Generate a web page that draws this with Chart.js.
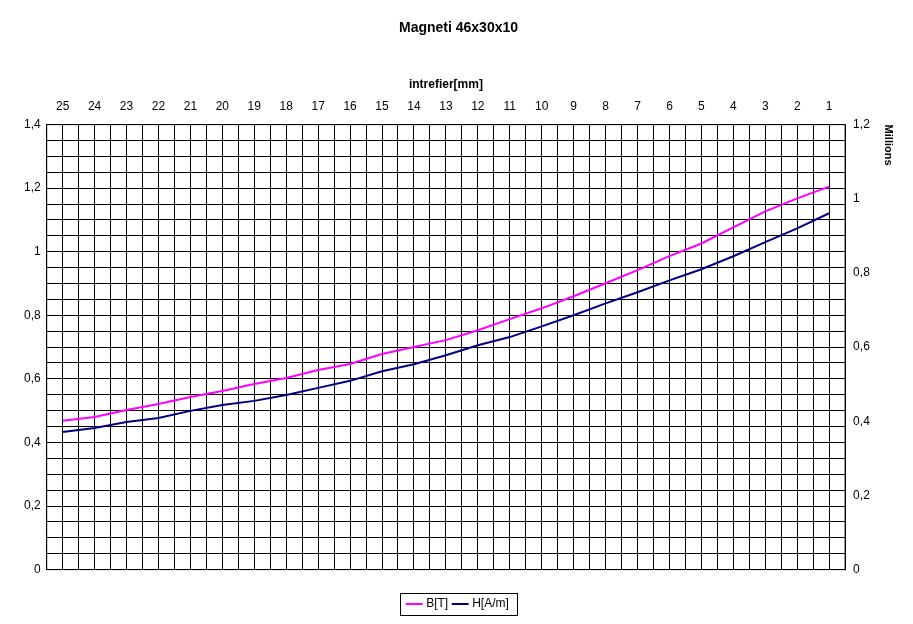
<!DOCTYPE html>
<html><head><meta charset="utf-8">
<script src="https://cdn.jsdelivr.net/npm/chart.js@4/dist/chart.umd.min.js"></script>
<style>html,body{margin:0;padding:0;background:#fff}#w{width:913px;height:624px}</style>
</head><body><div id="w"><canvas id="c"></canvas></div>
<script>
const categories = ['25','24','23','22','21','20','19','18','17','16','15','14','13','12','11','10','9','8','7','6','5','4','3','2','1'];
const seriesB = [0.468,0.480,0.502,0.521,0.543,0.562,0.584,0.603,0.628,0.647,0.678,0.700,0.722,0.753,0.788,0.822,0.860,0.901,0.942,0.986,1.026,1.077,1.127,1.168,1.205];
const seriesH = [371000,382000,398000,409000,428000,444000,455000,471000,490000,509000,535000,554000,578000,605000,627000,656000,686000,718000,748000,780000,810000,845000,883000,920000,961000];
const leftTicks = [0,0.2,0.4,0.6,0.8,1,1.2,1.4];
const rightTicks = [0,0.2,0.4,0.6,0.8,1,1.2];
const fmt = v => String(Math.round(v*10)/10).replace('.',',');
const F = {family:'"Liberation Sans", Arial, sans-serif', size:12};
const legendBox = {id:'lb', afterDraw(ch){const hb=ch.legend.legendHitBoxes;if(!hb||!hb.length)return;
 let l=Infinity,r=-Infinity,t=Infinity,b=-Infinity;hb.forEach(h=>{l=Math.min(l,h.left);r=Math.max(r,h.left+h.width);t=Math.min(t,h.top);b=Math.max(b,h.top+h.height);});
 const c=ch.ctx;c.save();c.strokeStyle='#000';c.lineWidth=1;c.strokeRect(Math.round(l-8)+0.5,Math.round(t-5)+0.5,Math.round(r-l+16),Math.round(b-t+10));c.restore();}};
const frame = {id:'fr', afterDatasetsDraw(ch){const a=ch.chartArea,c=ch.ctx;c.save();c.strokeStyle='#000';c.lineWidth=1;c.strokeRect(a.left,a.top,a.right-a.left,a.bottom-a.top);c.restore();}};
new Chart(document.getElementById('c'),{
type:'line',
data:{labels:categories,datasets:[
{label:'B[T]',data:seriesB,borderColor:'#FF00FF',backgroundColor:'#FF00FF',borderWidth:2,pointRadius:0,yAxisID:'y',xAxisID:'x',tension:0},
{label:'H[A/m]',data:seriesH,borderColor:'#000080',backgroundColor:'#000080',borderWidth:2,pointRadius:0,yAxisID:'y2',xAxisID:'x',tension:0}]},
options:{responsive:true,maintainAspectRatio:false,animation:false,
layout:{padding:{left:18,right:14,top:10,bottom:4}},
plugins:{
title:{display:true,text:'Magneti 46x30x10',font:{...F,size:14,weight:'bold'},color:'#000',padding:{top:10,bottom:37}},
legend:{position:'bottom',labels:{usePointStyle:true,pointStyle:'line',color:'#000',font:F,boxWidth:30,padding:6},
 onClick:null},
tooltip:{enabled:false}},
scales:{
x:{type:'category',position:'top',offset:true,title:{display:true,text:'intrefier[mm]',font:{...F,weight:'bold'},color:'#000',padding:{bottom:4}},
 grid:{display:false},border:{display:false},ticks:{color:'#000',font:F,maxRotation:0,autoSkip:false}},
xg:{type:'linear',min:0,max:50,position:'bottom',ticks:{stepSize:1,display:false},grid:{color:'#000',lineWidth:1,drawTicks:false},border:{display:false},
 title:{display:true,text:' ',font:{size:2},padding:{top:10,bottom:10}}},
y:{min:0,max:1.4,position:'left',ticks:{stepSize:0.05,autoSkip:false,color:'#000',font:F,padding:6,
  callback:v=>{const r=Math.round(v*100);return r%20===0?fmt(v):'';}},
 afterBuildTicks:s=>{s.ticks=[];for(let i=0;i<=28;i++)s.ticks.push({value:i*0.05});},
 grid:{color:'#000',lineWidth:1,drawTicks:false},border:{display:false}},
y2:{min:0,max:1200000,position:'right',
 afterBuildTicks:s=>{s.ticks=rightTicks.map(v=>({value:v*1e6}));},
 ticks:{color:'#000',font:F,padding:8,autoSkip:false,callback:v=>fmt(v/1e6)},
 title:{display:true,text:'Millions',align:'end',font:{...F,size:11,weight:'bold'},color:'#000'},
 grid:{display:false,drawTicks:false},border:{display:false}}
}},
plugins:[legendBox,frame]});
</script></body></html>
